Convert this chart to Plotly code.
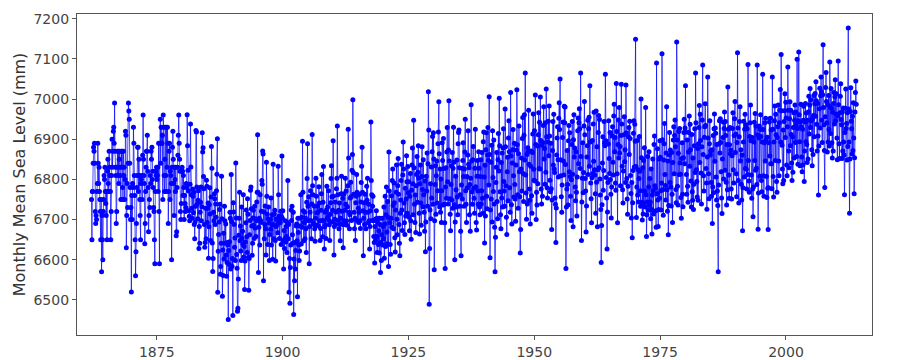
import plotly.graph_objects as go

start_year = 1862

msl_1862_1899 = [
    6750, 6650, 6770, 6770, 6840, 6880, 6870, 6890, 6840, 6720, 6690, 6710,
    6700, 6770, 6790, 6890, 6840, 6790, 6830, 6770, 6750, 6720, 6650, 6750,
    6570, 6710, 6650, 6600, 6720, 6750, 6810, 6800, 6830, 6770, 6740, 6710,
    6770, 6650, 6820, 6850, 6790, 6770, 6870, 6830, 6810, 6770, 6650, 6720,
    6810, 6900, 6830, 6870, 6920, 6930, 6890, 6990, 6870, 6830, 6810, 6690,
    6720, 6830, 6870, 6810, 6870, 6790, 6850, 6870, 6830, 6810, 6750, 6870,
    6830, 6870, 6780, 6750, 6870, 6810, 6830, 6750, 6800, 6920, 6910, 6630,
    6710, 6790, 6730, 6840, 6990, 6970, 6950, 6840, 6780, 6700, 6730, 6520,
    6760, 6700, 6790, 6780, 6930, 6890, 6810, 6760, 6650, 6560, 6620, 6690,
    6780, 6810, 6880, 6880, 6770, 6850, 6810, 6750, 6710, 6650, 6790, 6800,
    6810, 6750, 6860, 6960, 6850, 6810, 6790, 6640, 6690, 6770, 6830, 6870,
    6870, 6910, 6820, 6780, 6670, 6710, 6750, 6730, 6810, 6790, 6870, 6850,
    6880, 6800, 6820, 6780, 6730, 6720, 6650, 6590, 6770, 6820, 6810, 6830,
    6800, 6810, 6830, 6770, 6890, 6720, 6590, 6890, 6950, 6840, 6930, 6890,
    6890, 6910, 6750, 6960, 6930, 6810, 6770, 6850, 6930, 6810, 6770, 6930,
    6830, 6930, 6890, 6690, 6770, 6870, 6890, 6750, 6820, 6810, 6790, 6600,
    6830, 6880, 6920, 6850, 6790, 6710, 6830, 6800, 6770, 6830, 6660, 6670,
    6780, 6830, 6860, 6910, 6960, 6890, 6850, 6820, 6720, 6700, 6740, 6820,
    6830, 6820, 6760, 6810, 6780, 6700, 6760, 6740, 6720, 6730, 6790, 6780,
    6961, 6884, 6823, 6771, 6722, 6708, 6697, 6788, 6938, 6831, 6762, 6728,
    6703, 6776, 6758, 6717, 6768, 6688, 6652, 6694, 6733, 6922, 6918, 6781,
    6738, 6702, 6748, 6772, 6628, 6683, 6641, 6718, 6743, 6781, 6697, 6732,
    6916, 6868, 6879, 6807, 6777, 6688, 6631, 6643, 6728, 6652, 6798, 6783,
    6693, 6728, 6741, 6604, 6682, 6737, 6779, 6714, 6648, 6756, 6882, 6828,
    6642, 6571, 6603, 6718, 6697, 6764, 6752, 6688, 6739, 6706, 6772, 6813,
    6901, 6519, 6621, 6663, 6694, 6725, 6738, 6564, 6583, 6641, 6808, 6702,
    6509, 6624, 6561, 6666, 6602, 6733, 6697, 6641, 6689, 6612, 6559, 6593,
    6643, 6637, 6451, 6623, 6588, 6645, 6718, 6703, 6577, 6812, 6695, 6584,
    6603, 6461, 6742, 6719, 6688, 6631, 6654, 6598, 6841, 6704, 6613, 6579,
    6472, 6479, 6552, 6661, 6703, 6768, 6647, 6684, 6622, 6598, 6731, 6652,
    6671, 6638, 6762, 6607, 6633, 6526, 6597, 6644, 6692, 6724, 6657, 6618,
    6752, 6713, 6606, 6524, 6603, 6662, 6698, 6773, 6781, 6727, 6684, 6611,
    6641, 6704, 6723, 6686, 6653, 6733, 6679, 6702, 6658, 6697, 6744, 6768,
    6911, 6768, 6568, 6681, 6703, 6637, 6762, 6698, 6693, 6721, 6797, 6788,
    6871, 6863, 6548, 6719, 6652, 6688, 6734, 6677, 6612, 6843, 6758, 6713,
    6638, 6702, 6731, 6692, 6598, 6663, 6701, 6676, 6754, 6637, 6688, 6712,
    6601, 6838, 6687, 6652, 6714, 6723, 6648, 6597, 6683, 6702, 6699, 6688,
    6667, 6833, 6762, 6708, 6653, 6698, 6692, 6721, 6638, 6707, 6858, 6703,
]

msl_1900_1939 = [
    6722, 6648, 6577, 6673, 6628, 6652, 6697, 6644, 6683, 6658, 6618, 6693,
    6797, 6652, 6688, 6519, 6603, 6492, 6581, 6637, 6724, 6698, 6733, 6662,
    6641, 6718, 6464, 6602, 6548, 6643, 6577, 6623, 6684, 6689, 6647, 6508,
    6703, 6668, 6637, 6598, 6622, 6684, 6703, 6762, 6639, 6706, 6681, 6895,
    6768, 6722, 6647, 6693, 6718, 6652, 6704, 6677, 6618, 6743, 6802, 6889,
    6733, 6697, 6757, 6590, 6683, 6718, 6772, 6698, 6652, 6739, 6912, 6784,
    6762, 6691, 6688, 6734, 6677, 6646, 6703, 6803, 6758, 6717, 6686, 6733,
    6719, 6684, 6782, 6741, 6697, 6648, 6678, 6723, 6764, 6812, 6698, 6657,
    6743, 6832, 6697, 6627, 6682, 6718, 6687, 6653, 6724, 6783, 6703, 6731,
    6707, 6772, 6698, 6687, 6648, 6713, 6742, 6802, 6834, 6757, 6694, 6723,
    6896, 6758, 6612, 6683, 6701, 6744, 6688, 6719, 6777, 6803, 6933, 6762,
    6698, 6723, 6677, 6741, 6689, 6647, 6703, 6764, 6808, 6721, 6688, 6753,
    6630, 6697, 6764, 6688, 6723, 6803, 6738, 6771, 6697, 6686, 6732, 6784,
    6925, 6853, 6718, 6677, 6712, 6754, 6793, 6757, 6698, 6823, 6862, 6998,
    6817, 6763, 6718, 6677, 6703, 6648, 6742, 6758, 6812, 6768, 6697, 6764,
    6728, 6693, 6718, 6763, 6697, 6678, 6744, 6792, 6833, 6880, 6768, 6722,
    6610, 6703, 6742, 6688, 6763, 6718, 6677, 6743, 6783, 6748, 6803, 6718,
    6692, 6738, 6697, 6627, 6683, 6722, 6943, 6797, 6762, 6698, 6733, 6758,
    6697, 6658, 6643, 6592, 6683, 6648, 6702, 6722, 6658, 6618, 6693, 6703,
    6638, 6672, 6617, 6703, 6688, 6568, 6643, 6598, 6662, 6703, 6637, 6683,
    6652, 6731, 6604, 6689, 6758, 6633, 6712, 6781, 6669, 6640, 6745, 6706,
    6583, 6868, 6771, 6692, 6638, 6614, 6703, 6759, 6681, 6797, 6826, 6735,
    6677, 6791, 6742, 6655, 6619, 6724, 6768, 6836, 6701, 6662, 6784, 6852,
    6763, 6688, 6641, 6610, 6716, 6749, 6797, 6838, 6724, 6673, 6811, 6893,
    6826, 6741, 6692, 6663, 6778, 6709, 6751, 6859, 6794, 6716, 6832, 6767,
    6794, 6706, 6672, 6758, 6815, 6697, 6651, 6773, 6836, 6878, 6789, 6712,
    6947, 6829, 6738, 6693, 6761, 6668, 6784, 6812, 6857, 6743, 6818, 6884,
    6803, 6716, 6664, 6789, 6836, 6741, 6686, 6807, 6881, 6775, 6732, 6849,
    6762, 6718, 6671, 6796, 6620, 6694, 6808, 6771, 6866, 6733, 6839, 7018,
    6923, 6489, 6628, 6724, 6789, 6702, 6831, 6754, 6869, 6907, 6738, 6916,
    6851, 6575, 6697, 6787, 6834, 6713, 6809, 6846, 6741, 6772, 6889, 6918,
    6993, 6864, 6731, 6826, 6718, 6801, 6693, 6772, 6891, 6847, 6736, 6902,
    6827, 6738, 6692, 6578, 6781, 6829, 6753, 6868, 6929, 6794, 6739, 6873,
    6996, 6846, 6752, 6713, 6672, 6787, 6834, 6749, 6867, 6728, 6828, 6930,
    6843, 6737, 6600, 6694, 6808, 6774, 6731, 6848, 6756, 6712, 6889, 6917,
    6923, 6829, 6733, 6762, 6671, 6610, 6786, 6828, 6751, 6847, 6891, 6807,
    6733, 6826, 6868, 6950, 6772, 6738, 6693, 6807, 6779, 6861, 6921, 6838,
    6829, 6712, 6787, 6671, 6803, 6986, 6846, 6769, 6738, 6849, 6882, 6778,
    6753, 6716, 6828, 6925, 6782, 6693, 6674, 6808, 6847, 6771, 6738, 6869,
    6828, 6731, 6712, 6807, 6849, 6739, 6772, 6867, 6753, 6716, 6894, 6918,
]

msl_1940_1979 = [
    6806, 6642, 6835, 6709, 6874, 6916, 6758, 6727, 6861, 6929, 6847, 6786,
    7006, 6862, 6605, 6724, 6843, 6751, 6885, 6694, 6921, 6805, 6770, 6898,
    6739, 6681, 6570, 6656, 6792, 6830, 6867, 6745, 6702, 6849, 6914, 6821,
    7002, 6884, 6769, 6712, 6677, 6842, 6754, 6866, 6731, 6878, 6926, 6795,
    6771, 6733, 6975, 6881, 6784, 6706, 6663, 6819, 6855, 6747, 6903, 6946,
    6869, 6779, 6718, 7016, 6858, 6737, 6689, 6841, 6874, 6924, 6809, 6756,
    6890, 6787, 6751, 6696, 6836, 6873, 7023, 6886, 6762, 6728, 6864, 6933,
    6819, 6757, 6617, 6675, 6826, 6853, 6771, 6902, 6954, 6815, 6745, 6910,
    6961, 6848, 7065, 6811, 6766, 6701, 6862, 6739, 6879, 6869, 6972, 6838,
    6776, 6748, 6689, 6833, 6871, 6759, 6716, 6867, 6913, 6963, 6825, 6798,
    6921, 6796, 7010, 6887, 6700, 6768, 6736, 6883, 6789, 6911, 6966, 6827,
    6942, 6826, 7005, 6897, 6776, 6739, 6885, 6758, 6892, 6934, 6981, 6851,
    6877, 6788, 6941, 6818, 7025, 6906, 6779, 6754, 6893, 6945, 6859, 6983,
    6908, 6798, 6769, 6890, 6777, 6675, 6749, 6872, 6944, 6836, 6962, 6826,
    6817, 6754, 6738, 6643, 6729, 6861, 6903, 6931, 6849, 6806, 6952, 6991,
    6924, 7050, 6849, 6809, 6757, 6718, 6786, 6904, 6943, 6846, 6811, 6982,
    6941, 6980, 6837, 6578, 6731, 6776, 6872, 6787, 6736, 6896, 6934, 6819,
    6916, 6807, 6758, 6698, 6799, 6887, 6944, 6813, 6682, 6899, 6961, 6856,
    6878, 6781, 6747, 6869, 6768, 6709, 6806, 6921, 6953, 6839, 6941, 6976,
    6926, 6827, 7065, 6857, 6648, 6744, 6803, 6891, 6767, 6817, 6933, 6994,
    6911, 6802, 6771, 6669, 6734, 6856, 6884, 6947, 6812, 6926, 6955, 6833,
    7033, 6893, 6791, 6752, 6692, 6804, 6897, 6815, 6938, 6845, 6967, 6824,
    6811, 6764, 6716, 6970, 6793, 6881, 6682, 6824, 6917, 6959, 6829, 6949,
    6801, 6761, 6725, 6593, 6685, 6737, 6841, 6906, 6773, 6822, 6944, 6891,
    6884, 7062, 6896, 6805, 6754, 6627, 6719, 6792, 6888, 6946, 6852, 6815,
    6917, 6800, 6763, 6704, 6781, 6908, 6931, 6843, 6811, 6958, 6987, 6869,
    6904, 6791, 6773, 7039, 6919, 6814, 6692, 6887, 6948, 6853, 6979, 6866,
    6882, 6784, 6909, 7037, 6938, 6833, 6774, 6741, 6821, 6911, 6956, 6844,
    6874, 6792, 7035, 6916, 6802, 6751, 6713, 6783, 6906, 6929, 6862, 6945,
    6902, 6810, 6765, 6704, 6792, 6655, 6742, 6822, 6915, 6946, 6831, 6937,
    6895, 7149, 6832, 6705, 6781, 6897, 6761, 6824, 6744, 6802, 6907, 6820,
    6772, 6733, 7000, 6854, 6743, 6699, 6829, 6714, 6847, 6741, 6879, 6771,
    6731, 6979, 6762, 6658, 6712, 6744, 6857, 6723, 6781, 6869, 6735, 6802,
    6744, 6702, 6826, 6725, 6664, 6761, 6851, 6772, 6714, 6887, 6908, 6784,
    6779, 6722, 6681, 7090, 6764, 6876, 6749, 6683, 6725, 6851, 6753, 6896,
    6855, 6772, 6724, 6791, 7113, 6899, 6774, 6711, 6848, 6889, 6939, 6812,
    6785, 6749, 6866, 6981, 6774, 6721, 6846, 6662, 6735, 6861, 6917, 6792,
    6873, 6781, 6734, 6867, 6763, 6693, 6842, 6898, 6931, 6814, 6909, 6948,
    6881, 6775, 6742, 7142, 6898, 6783, 6736, 6865, 6919, 6812, 6927, 6841,
    6813, 6755, 6703, 6852, 6891, 6763, 6732, 6854, 6917, 6950, 6839, 6928,
]

msl_1980_2013 = [
    7033, 6918, 6812, 6763, 6898, 6783, 6743, 6868, 6917, 6958, 6833, 6937,
    6874, 6796, 6731, 6912, 6769, 6748, 6853, 6725, 6788, 6884, 6926, 6817,
    7065, 6941, 6824, 6795, 6756, 6877, 6748, 6889, 6929, 6984, 6842, 6962,
    6897, 6816, 6739, 6881, 6948, 7085, 6862, 6809, 6771, 6905, 6931, 6988,
    6934, 6827, 6791, 6726, 6856, 7055, 6903, 6814, 6752, 6889, 6946, 6861,
    6871, 6792, 6758, 6874, 6690, 6781, 6909, 6767, 6926, 6963, 6845, 6928,
    6915, 6806, 6749, 6887, 6771, 6735, 6570, 6786, 6889, 6946, 6866, 6951,
    6892, 6819, 6754, 6715, 6851, 6904, 6943, 6801, 6927, 6968, 6823, 6944,
    6909, 6793, 6736, 6887, 6774, 7030, 6925, 6811, 6753, 6886, 6929, 6864,
    6873, 6776, 6751, 6859, 6927, 6966, 6824, 6791, 6909, 6951, 6994, 6867,
    6913, 6814, 6757, 6892, 7115, 6928, 6797, 6741, 6906, 6944, 6981, 6846,
    6874, 6788, 6749, 6861, 6672, 6779, 6893, 6945, 6806, 6925, 6962, 6827,
    6936, 6825, 6776, 6926, 6812, 7086, 6847, 6796, 6768, 6907, 6941, 6985,
    6896, 6811, 6753, 6904, 6776, 6707, 6781, 6893, 6942, 6847, 6964, 6823,
    6932, 6828, 6787, 7085, 6911, 6676, 6766, 6903, 6933, 6808, 6924, 6961,
    6907, 6797, 6769, 6893, 7062, 6924, 6809, 6758, 6891, 6941, 6846, 6952,
    6898, 6807, 6755, 6905, 6778, 6675, 6779, 6891, 6943, 6858, 6952, 6839,
    6923, 6839, 6777, 7055, 6925, 6807, 6756, 6893, 6946, 6983, 6847, 6962,
    6911, 6795, 6768, 6904, 6931, 6985, 6846, 6809, 6941, 6972, 7024, 6893,
    7111, 6971, 6885, 6826, 6789, 6923, 6797, 6944, 6971, 7013, 6904, 6992,
    6953, 6836, 6809, 6931, 7080, 6972, 6871, 6829, 6951, 6993, 6884, 6972,
    6912, 6841, 6797, 6906, 6818, 6929, 6966, 6853, 6947, 6985, 6892, 6968,
    6936, 6857, 7099, 6927, 6838, 6946, 7117, 6961, 6894, 6834, 6942, 6987,
    6931, 6856, 6819, 6925, 6836, 6947, 6982, 6795, 6871, 6943, 6989, 6894,
    6965, 6887, 6842, 6947, 6851, 6968, 7007, 6913, 6985, 7026, 6929, 6998,
    6946, 6874, 6834, 6951, 6862, 6959, 7009, 6906, 6988, 7014, 6957, 7043,
    6996, 6937, 6871, 6989, 6908, 6761, 6883, 6976, 7027, 6928, 7008, 7055,
    7018, 6947, 6892, 7011, 7135, 6979, 6936, 6872, 6780, 6956, 7029, 7066,
    6994, 6941, 6868, 6986, 6893, 7009, 6924, 6883, 7092, 6981, 6914, 7026,
    6977, 6891, 6853, 6967, 6871, 6989, 7016, 6938, 7006, 7048, 6946, 7013,
    6962, 6903, 6849, 6958, 7095, 6986, 6889, 6852, 6966, 7007, 7038, 6949,
    6936, 6852, 6968, 6871, 6978, 6893, 6861, 6762, 6917, 6977, 7025, 6927,
    6939, 6848, 6966, 6882, 7177, 6975, 6893, 6716, 6851, 6969, 7028, 6945,
    6926, 6863, 6957, 6872, 6991, 6903, 6764, 6854, 6968, 7016, 7045, 6987,
]

x_tick_values = [1875, 1900, 1925, 1950, 1975, 2000]
y_tick_values = [6500, 6600, 6700, 6800, 6900, 7000, 7100, 7200]

sea_level = msl_1862_1899 + msl_1900_1939 + msl_1940_1979 + msl_1980_2013
decimal_year = [start_year + (i + 0.5) / 12 for i in range(len(sea_level))]

fig = go.Figure()
fig.add_trace(go.Scatter(
    x=decimal_year,
    y=sea_level,
    mode="lines+markers",
    line=dict(color="rgba(0,0,255,0.7)", width=1),
    marker=dict(color="#0000ff", size=5, line=dict(width=0)),
    showlegend=False,
))

axis_common = dict(
    showline=True, mirror=True, linecolor="#555555", linewidth=1.3,
    showgrid=False, zeroline=False, automargin=False,
    ticks="outside", ticklen=4, tickcolor="#555555", tickwidth=1,
    tickfont=dict(family="DejaVu Sans", size=14, color="#444444"),
)

fig.update_layout(
    width=900, height=360,
    margin=dict(l=77, r=28, t=14, b=25),
    paper_bgcolor="white", plot_bgcolor="white",
    xaxis=dict(range=[1859.16, 2017.09], tickvals=x_tick_values, **axis_common),
    yaxis=dict(range=[6412.7, 7211.7], tickvals=y_tick_values,
               title=dict(text="Monthly Mean Sea Level (mm)",
                          font=dict(family="DejaVu Sans", size=16, color="#333333"),
                          standoff=3),
               **axis_common),
)

fig.write_html("out.html")
